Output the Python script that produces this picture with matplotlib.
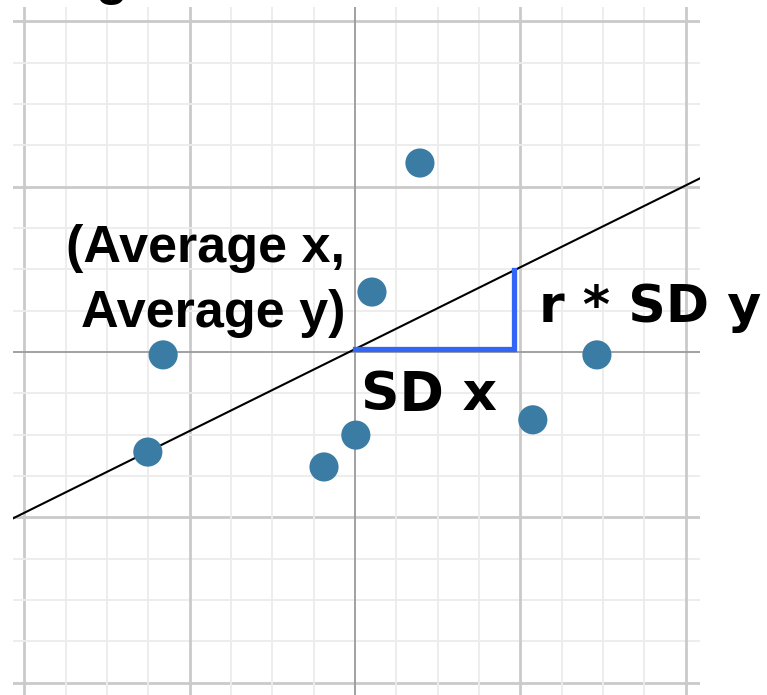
import numpy as np
from matplotlib import pyplot as plt

# scatter points (grid units, origin at the averages)
xs = [1.57, 0.41, -4.64, 5.85, -5.01, 0.02, -0.75, 4.30]
ys = [4.57, 1.45, -0.07, -0.07, -2.42, -2.01, -2.78, -1.64]

# regression line and the SD triangle
line_intercept = 0.07
line_slope = 0.495
sd_x = 3.85

label_avg = ['(Average x,', 'Average y)']
label_sdx = 'SD x'
label_sdy = 'r * SD y'

fig = plt.figure(figsize=(7.67, 6.95), dpi=100)
ax = fig.add_axes([13 / 767, 0, 687 / 767, 688 / 695])
ax.set_xlim(-8.271, 8.343)
ax.set_ylim(-8.295, 8.343)

# graph paper
for v in np.arange(-8, 9):
    if v == 0:
        c, w = '#9a9a9a', 1.3
    elif v % 4 == 0:
        c, w = '#cacaca', 2.0
    else:
        c, w = '#ececec', 1.3
    ax.axvline(v, color=c, lw=w, zorder=1 if v else 2)
    ax.axhline(v, color=c, lw=w, zorder=1 if v else 2)

for s in ax.spines.values():
    s.set_visible(False)
ax.set_xticks([])
ax.set_yticks([])

lx = np.array(ax.get_xlim())
ax.plot(lx, line_intercept + line_slope * lx, color='black', lw=1.5, zorder=3)

y_top = line_intercept + line_slope * sd_x
ax.plot([0, sd_x, sd_x], [line_intercept, line_intercept, y_top],
        color='#3366f5', lw=3.8, solid_joinstyle='miter', zorder=4)

ax.scatter(xs, ys, s=440, color='#3a7ca3', edgecolors='none', zorder=5)

big = dict(fontsize=37.5, fontweight='bold', color='black', clip_on=False, zorder=6)
ax.text(-0.24, 2.18, label_avg[0], ha='right', va='baseline', family='Liberation Sans', **big)
ax.text(-0.24, 0.61, label_avg[1], ha='right', va='baseline', family='Liberation Sans', **big)
ax.text(4.45, 0.73, label_sdy, ha='left', va='baseline', family='DejaVu Sans',
        fontsize=37.5, fontweight='bold', color='black', clip_on=False, zorder=6)
ax.text(0.15, -1.40, label_sdx, ha='left', va='baseline', family='DejaVu Sans',
        fontsize=38.5, fontweight='bold', color='black', clip_on=False, zorder=6)

# tail of the cut-off title above the picture
ax.text(-6.26, 8.66, 'g', ha='left', va='baseline', family='Liberation Sans', **big)

plt.savefig('out.png', dpi=100)
